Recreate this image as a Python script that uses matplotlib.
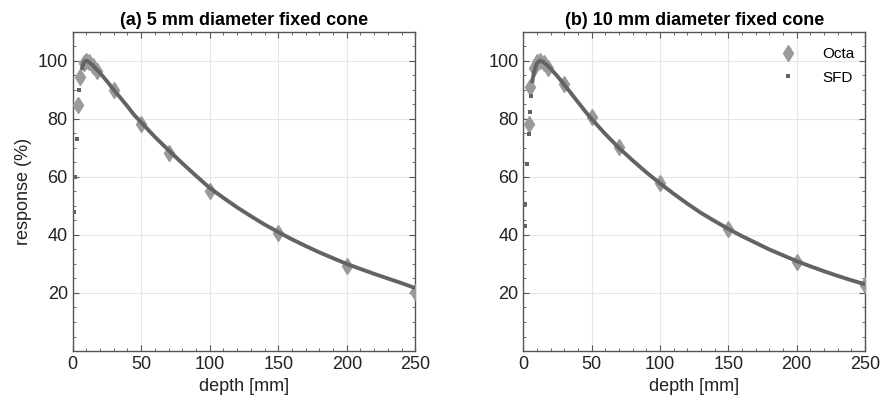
import matplotlib
matplotlib.use("Agg")
from matplotlib import pyplot as plt
from matplotlib.ticker import MultipleLocator
import numpy as np

plt.rcParams["font.family"] = ["Liberation Sans", "DejaVu Sans"]

# Octa detector readings (same depths for both cones)
octa_depth = [4, 5, 8, 10, 12, 15, 18, 30, 50, 70, 100, 150, 200, 250]
octa_5mm = [84.8, 94.3, 99.2, 100.0, 99.6, 98.3, 96.5, 90.0, 78.2, 68.2, 55.0, 40.6, 29.2, 20.5]
octa_10mm = [78.3, 91.0, 97.6, 99.5, 100.0, 99.3, 97.5, 92.0, 80.5, 70.2, 57.8, 42.2, 30.6, 22.8]

# SFD readings
sfd_depth_a = [1.2, 1.7, 3.1, 4.8, 6.5, 8, 9, 10, 11, 12, 14, 16, 18, 20, 25, 30, 35, 40, 45,
               50, 60, 70, 80, 90, 100, 110, 120, 130, 140, 150, 160, 170, 180, 190, 200,
               210, 220, 230, 240, 250]
sfd_5mm = [47.8, 60.1, 73.0, 90.0, 96.9, 99.3, 99.9, 100.0, 99.9, 99.5, 98.8, 97.8, 96.8, 95.8,
           93.0, 90.0, 87.2, 84.3, 81.3, 78.8, 73.8, 69.2, 64.7, 60.4, 56.2, 52.8, 49.5, 46.5,
           43.6, 41.0, 38.5, 36.2, 34.0, 32.0, 30.0, 28.3, 26.6, 25.0, 23.4, 21.7]

sfd_depth_b = [1.2, 1.5, 2.7, 3.9, 4.9, 5.6, 6.4, 7.6, 9, 10, 12, 13, 15, 18, 20, 25, 30, 35,
               40, 45, 50, 60, 70, 80, 90, 100, 110, 120, 130, 140, 150, 160, 170, 180, 190,
               200, 210, 220, 230, 240, 250]
sfd_10mm = [43.1, 50.7, 64.4, 74.8, 82.5, 87.9, 92.3, 95.5, 98.0, 99.2, 100.0, 100.0, 99.5,
            98.3, 97.3, 94.7, 91.8, 88.8, 85.8, 82.8, 80.0, 74.8, 70.0, 65.7, 61.6, 57.8, 54.2,
            50.8, 47.6, 44.8, 42.1, 39.6, 37.3, 35.0, 33.0, 31.0, 29.2, 27.5, 25.9, 24.4, 23.0]

titles = ["(a) 5 mm diameter fixed cone", "(b) 10 mm diameter fixed cone"]

octa_color = "#9a9a9a"
sfd_color = "#636363"
spine_color = "#555555"


def draw_panel(ax, sfd_depth, sfd, octa, title):
    ax.plot(octa_depth, octa, marker="d", linestyle="", markersize=8, color=octa_color,
            label="Octa", zorder=3)
    d = np.array(sfd_depth)
    v = np.array(sfd)
    keep = d >= 6
    # dense part of the SFD scan looks like a solid line, build-up shows single points
    ax.plot(d[keep], v[keep], marker="", linestyle="-", linewidth=2.8, color=sfd_color,
            solid_capstyle="butt", zorder=5)
    ax.plot(d[~keep], v[~keep], marker="s", linestyle="", markersize=2.2, color=sfd_color,
            markeredgewidth=0, label="SFD", zorder=4)

    ax.set_xlim(0, 250)
    ax.set_ylim(0, 110)
    ax.set_xticks([0, 50, 100, 150, 200, 250])
    ax.set_yticks([20, 40, 60, 80, 100])
    ax.xaxis.set_minor_locator(MultipleLocator(10))
    ax.yaxis.set_minor_locator(MultipleLocator(5))
    ax.tick_params(which="both", direction="in", top=True, right=True,
                   colors=spine_color, labelcolor="#222222", labelsize=13)
    ax.tick_params(which="major", length=4)
    ax.tick_params(which="minor", length=2.5)
    ax.grid(True, which="major", color="#e6e6e6", linewidth=0.8)
    ax.set_axisbelow(True)
    for s in ax.spines.values():
        s.set_color(spine_color)
        s.set_linewidth(1.0)
    ax.set_xlabel("depth [mm]", fontsize=13, color="#222222")
    ax.set_title(title, fontsize=13, fontweight="bold", pad=5)


def main():
    fig = plt.figure(figsize=(8.83, 4.05), dpi=100)
    ax1 = fig.add_axes([0.0823, 0.1333, 0.388, 0.788])
    ax2 = fig.add_axes([0.5926, 0.1333, 0.387, 0.788])

    draw_panel(ax1, sfd_depth_a, sfd_5mm, octa_5mm, titles[0])
    draw_panel(ax2, sfd_depth_b, sfd_10mm, octa_10mm, titles[1])

    ax1.set_ylabel("response (%)", fontsize=13, color="#222222")

    ax2.legend(loc="upper right", bbox_to_anchor=(1.0, 0.985), frameon=False, fontsize=11,
               handletextpad=1.2, borderaxespad=0.3, labelspacing=0.6)

    fig.savefig("out.png", dpi=100)


if __name__ == "__main__":
    main()
